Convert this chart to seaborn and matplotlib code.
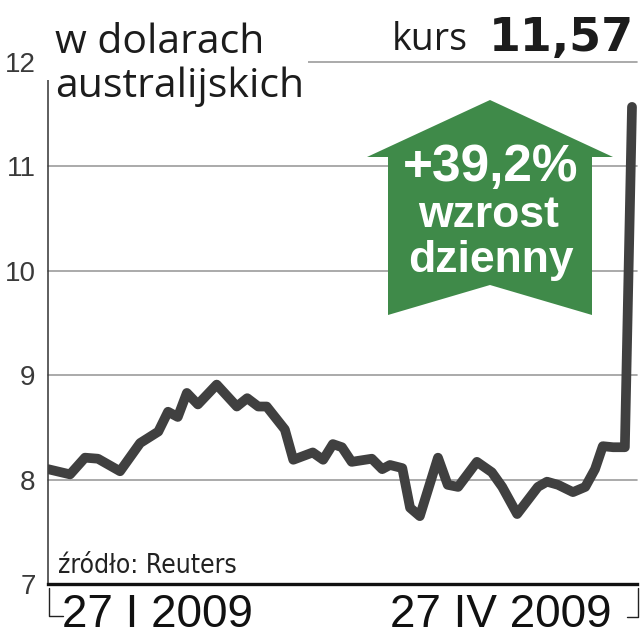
import numpy as np
import pandas as pd
import seaborn as sns
from matplotlib import pyplot as plt
from matplotlib import font_manager
from matplotlib.patches import Polygon, Rectangle
from matplotlib.lines import Line2D

# kurs w dolarach australijskich, 27 I 2009 - 27 IV 2009 (dni od startu)
days = [0, 3.4, 5.7, 7.7, 11.1, 14.2, 17.0, 18.5, 20.0, 21.4, 23.1, 26.0, 29.1,
        30.7, 32.4, 33.7, 36.5, 37.8, 40.8, 42.4, 43.9, 45.3, 46.8, 49.9, 51.5,
        52.7, 54.6, 55.8, 57.3, 60.1, 61.6, 63.2, 66.1, 68.4, 70.0, 72.3, 75.5,
        76.9, 78.6, 80.9, 82.8, 84.3, 85.5, 87.1, 88.9, 90.0]
price = [8.10, 8.05, 8.21, 8.20, 8.08, 8.35, 8.46, 8.65, 8.60, 8.83, 8.72, 8.91, 8.70,
         8.78, 8.70, 8.70, 8.48, 8.19, 8.26, 8.19, 8.34, 8.31, 8.17, 8.20, 8.10,
         8.14, 8.11, 7.73, 7.65, 8.21, 7.95, 7.93, 8.17, 8.07, 7.93, 7.67, 7.93,
         7.98, 7.95, 7.88, 7.93, 8.10, 8.32, 8.31, 8.31, 11.57]
y_ticks = [7, 8, 9, 10, 11, 12]
date_labels = ["27 I 2009", "27 IV 2009"]
title = "w dolarach\naustralijskich"
last_price = "11,57"
change = "+39,2%"

df = pd.DataFrame({"day": days, "price": price})

sns.set_style("white")
plt.rcParams["font.family"] = ["Liberation Sans", "DejaVu Sans"]

# condensed face for the source note, if there is one
cond = [f for f in font_manager.fontManager.ttflist
        if f.name in ("DejaVu Sans", "Liberation Sans Narrow") and f.stretch == "condensed"
        and f.style == "normal" and f.weight in (400, "normal", "regular", "book")]
if cond:
    src_font = font_manager.FontProperties(fname=cond[0].fname, size=19)
else:
    src_font = font_manager.FontProperties(family="Liberation Sans", size=17)

W = 640.0
def fx(px):
    return px / W
def fy(py):
    return 1 - py / W

fig = plt.figure(figsize=(6.4, 6.4), dpi=100)
ax = fig.add_axes([fx(48), fy(584), fx(637) - fx(48), fy(62) - fy(584)])

sns.lineplot(data=df, x="day", y="price", ax=ax, sort=False, color="#404040",
             linewidth=7, solid_joinstyle="round", solid_capstyle="round", zorder=3)

ax.set_ylim(7, 12)
ax.set_xlim(0, 90 * (637 - 48) / (632 - 48))
ax.set_yticks(y_ticks)
ax.set_yticklabels([str(t) for t in y_ticks])
ax.set_xticks([])
ax.set_xlabel("")
ax.set_ylabel("")
for t in y_ticks[1:]:
    ax.axhline(t, color="#9c9c9c", lw=1.2, zorder=1, clip_on=False)
ax.tick_params(axis="y", length=0, pad=9, labelsize=20, labelcolor="#3a3a3a")
for s in ["top", "right"]:
    ax.spines[s].set_visible(False)
ax.spines["left"].set_color("#333333")
ax.spines["left"].set_linewidth(1.1)
ax.spines["bottom"].set_color("#111111")
ax.spines["bottom"].set_linewidth(2.4)

# title block with white background covering the top gridline
fig.patches.append(Rectangle((fx(44), fy(80)), fx(308) - fx(44), fy(12) - fy(80),
                             transform=fig.transFigure, facecolor="white",
                             edgecolor="none", zorder=2))
fig.text(fx(55), fy(97), title, ha="left", va="baseline", fontsize=29.5,
         family=["Open Sans", "DejaVu Sans"], color="#1c1c1c", linespacing=1.13, zorder=3)

fig.text(fx(392), fy(50), "kurs", ha="left", va="baseline", fontsize=27,
         family=["Open Sans", "DejaVu Sans"], color="#1c1c1c")
fig.text(fx(634), fy(51), last_price, ha="right", va="baseline", fontsize=33,
         fontweight="bold", family=["DejaVu Sans"], color="#1c1c1c")

# green arrow
arrow_px = [(490, 100), (367, 157), (388, 157), (388, 315), (490, 285),
            (592, 315), (592, 157), (613, 157)]
fig.patches.append(Polygon([(fx(a), fy(b)) for a, b in arrow_px], closed=True,
                           transform=fig.transFigure, facecolor="#3f8a49",
                           edgecolor="none", zorder=2))
fig.text(fx(491), fy(181), change, ha="center", va="baseline", fontsize=37,
         fontweight="bold", color="white", zorder=3)
fig.text(fx(489), fy(227), "wzrost", ha="center", va="baseline", fontsize=32,
         fontweight="bold", color="white", zorder=3)
fig.text(fx(491), fy(272), "dzienny", ha="center", va="baseline", fontsize=32,
         fontweight="bold", color="white", zorder=3)

fig.text(fx(58), fy(573), "źródło: Reuters", ha="left", va="baseline",
         fontproperties=src_font, color="#222222")

# date labels with brackets
fig.text(fx(62), fy(627), date_labels[0], ha="left", va="baseline", fontsize=33,
         color="#111111")
fig.text(fx(612), fy(627), date_labels[1], ha="right", va="baseline", fontsize=33,
         color="#111111")
for xs, ys in [([49, 49, 63], [588, 616, 616]), ([627, 638, 638], [617, 617, 588])]:
    fig.lines.append(Line2D([fx(v) for v in xs], [fy(v) for v in ys],
                            transform=fig.transFigure, color="#222222", lw=1.0))

plt.savefig("out.png", dpi=100)
